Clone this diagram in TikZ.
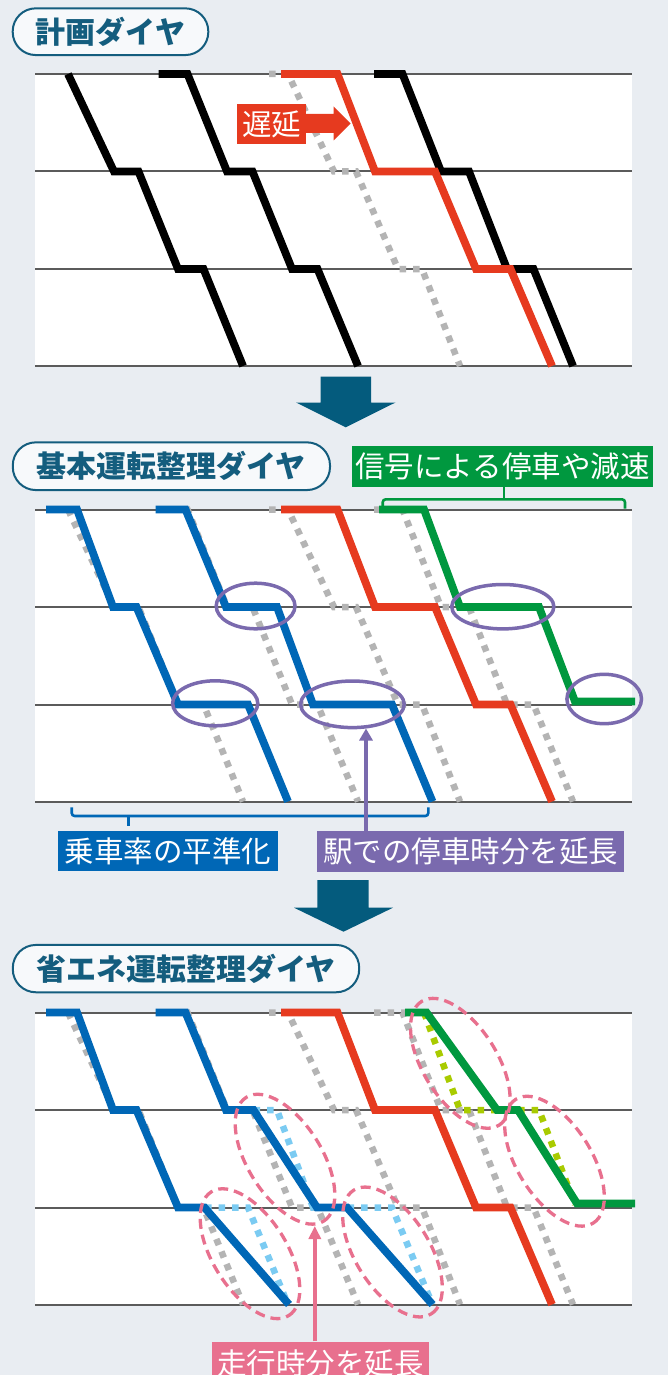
\documentclass[tikz,border=0pt]{standalone}
\usepackage{fontspec}
\newfontfamily\jp{Noto Sans CJK JP}
\usetikzlibrary{arrows.meta}
\definecolor{cBg}{HTML}{E9EDF2}
\definecolor{cTeal}{HTML}{045B7D}
\definecolor{cTitle}{HTML}{145D7E}
\definecolor{cPill}{HTML}{F7F9FB}
\definecolor{cLine}{HTML}{5B5B5B}
\definecolor{cDot}{HTML}{B4B4B4}
\definecolor{cRed}{HTML}{E63A1F}
\definecolor{cBlue}{HTML}{0067B6}
\definecolor{cGreen}{HTML}{00983F}
\definecolor{cPurple}{HTML}{7A6AAE}
\definecolor{cPink}{HTML}{E8708E}
\definecolor{cLime}{HTML}{A9CB00}
\definecolor{cLBlue}{HTML}{7BCBF2}
\tikzset{
  hline/.style={draw=cLine, line width=2pt},
  train/.style={line width=7.8pt, line join=miter, line cap=butt},
  planned/.style={draw=cDot, line width=6.5pt, dash pattern=on 6.5pt off 7pt, line join=miter},
  olddot/.style={line width=6.5pt, dash pattern=on 6.5pt off 7pt, line join=miter},
  pill/.style={draw=cTitle, line width=2pt, fill=cPill, rounded corners=23pt, inner sep=0pt,
    text=cTitle, font=\jp\bfseries\fontsize{30pt}{30pt}\selectfont},
  lbl/.style={inner sep=0pt, text=white, font=\jp\fontsize{29.5pt}{30pt}\selectfont},
  purpell/.style={draw=cPurple, line width=3.5pt},
  pinkell/.style={draw=cPink, line width=3.3pt, dash pattern=on 10pt off 6pt},
  bracket/.style={line width=2.6pt, rounded corners=3pt},
  downarrow/.style={fill=cTeal},
}
\newcommand\drawpanelbase{%
  \fill[white] (35,74) rectangle (632,366);
  \foreach \yy in {74,171.5,269,366} \draw[hline] (35,\yy) -- (632,\yy);
}
\begin{document}
\begin{tikzpicture}[x=1pt,y=-1pt]
\useasboundingbox[fill=cBg] (0,0) rectangle (668,1375);

% ---------- Panel 1 ----------
\node[pill, minimum width=195.6pt, minimum height=46.7pt] (t1) at (110.5,31.7) {計画ダイヤ};
\begin{scope}
  \drawpanelbase
  \draw[planned] (269,74) -- (288,74) -- (334,171.5) -- (356,171.5) -- (398,269) -- (422,269) -- (460,366);
  \draw[train, draw=black] (68,74) -- (114,171.5) -- (138.5,171.5) -- (178,269) -- (203.5,269) -- (243,366);
  \draw[train, draw=black] (158.5,74) -- (187.5,74) -- (227,171.5) -- (252.5,171.5) -- (292,269) -- (317.5,269) -- (358,366);
  \draw[train, draw=black] (374,74) -- (402.5,74) -- (441,171.5) -- (469,171.5) -- (507,269) -- (533.5,269) -- (573,366);
  \draw[train, draw=cRed] (281,74) -- (337.5,74) -- (375,171.5) -- (435,171.5) -- (476,269) -- (510.5,269) -- (552,366);
\end{scope}
\node[lbl, fill=cRed, minimum width=69pt, minimum height=39.5pt] (delay) at (271.5,124.2) {遅延};
\fill[cRed] (305,114) -- (333.5,114) -- (333.5,106.5) -- (350.5,123.5) -- (333.5,140.5) -- (333.5,133) -- (305,133) -- cycle;

\fill[downarrow] (320.5,376.5) -- (371,376.5) -- (371,402.5) -- (395.5,402.5) -- (345.7,427.3) -- (296,402.5) -- (320.5,402.5) -- cycle;

% ---------- Panel 2 ----------
\node[pill, minimum width=317.2pt, minimum height=47.7pt] (t2) at (171.4,466.2) {基本運転整理ダイヤ};
\node[lbl, fill=cGreen, minimum width=301.6pt, minimum height=40.7pt] (sig) at (502.5,466.3) {信号による停車や減速};
\begin{scope}[shift={(0,435.5)}]
  \drawpanelbase
  \draw[planned] (68,74) -- (114,171.5) -- (138.5,171.5) -- (178,269) -- (203.5,269) -- (243,366);
  \draw[planned] (158.5,74) -- (187.5,74) -- (227,171.5) -- (252.5,171.5) -- (292,269) -- (317.5,269) -- (358,366);
  \draw[planned] (269,74) -- (288,74) -- (334,171.5) -- (356,171.5) -- (398,269) -- (422,269) -- (460,366);
  \draw[planned] (374,74) -- (402.5,74) -- (441,171.5) -- (469,171.5) -- (507,269) -- (533.5,269) -- (573,366);
  \draw[train, draw=cBlue] (46,74) -- (77,74) -- (113,171.5) -- (136.5,171.5) -- (178,269) -- (248,269) -- (288,366);
  \draw[train, draw=cBlue] (155.5,74) -- (185.5,74) -- (226,171.5) -- (277,171.5) -- (313,269) -- (392,269) -- (432.5,366);
  \draw[train, draw=cRed] (281,74) -- (337.5,74) -- (375,171.5) -- (435,171.5) -- (476,269) -- (510.5,269) -- (552,366);
  \draw[train, draw=cGreen] (379,74) -- (424,74) -- (460,171.5) -- (539,171.5) -- (575,266) -- (635,266);
  \draw[purpell] (255.6,170.5) ellipse [x radius=39.4pt, y radius=22.8pt];
  \draw[purpell] (215.2,267.8) ellipse [x radius=42.6pt, y radius=22.5pt];
  \draw[purpell] (352.4,268.8) ellipse [x radius=51.8pt, y radius=23.3pt];
  \draw[purpell] (502.8,171.2) ellipse [x radius=51.1pt, y radius=22.2pt];
  \draw[purpell] (604.2,263.5) ellipse [x radius=37.3pt, y radius=24.7pt];
  \coordinate (e3b) at (366,293);
\end{scope}
% green bracket
\draw[bracket, draw=cGreen] (382.7,508.5) -- (382.7,499.3) -- (625,499.3) -- (625,508.5);
\coordinate (gtick) at (504,499.3);
\draw[line width=2.6pt, draw=cGreen] (gtick) -- (gtick |- sig.south);
% blue bracket
\draw[bracket, draw=cBlue] (71.7,807.3) -- (71.7,816) -- (428.3,816) -- (428.3,807.3);
\draw[line width=2.6pt, draw=cBlue] (128.3,816) -- (128.3,825.5);
\node[lbl, fill=cBlue, minimum width=219.4pt, minimum height=40pt] (ride) at (168,851) {乗車率の平準化};
\node[lbl, fill=cPurple, minimum width=307pt, minimum height=40.5pt] (dwell) at (470.8,851.5) {駅での停車時分を延長};
\draw[cPurple, line width=4pt, -{Triangle[length=12pt,width=13pt]}] (dwell.north -| e3b) -- (e3b);

\fill[downarrow] (317.4,880) -- (368.6,880) -- (368.6,907.7) -- (393,907.7) -- (343.5,931.7) -- (294,907.7) -- (317.4,907.7) -- cycle;

% ---------- Panel 3 ----------
\node[pill, minimum width=346.4pt, minimum height=47.3pt] (t3) at (186,968.6) {省エネ運転整理ダイヤ};
\begin{scope}[shift={(0,938.5)}]
  \drawpanelbase
  \draw[planned] (68,74) -- (114,171.5) -- (138.5,171.5) -- (178,269) -- (203.5,269) -- (243,366);
  \draw[planned] (158.5,74) -- (187.5,74) -- (227,171.5) -- (252.5,171.5) -- (292,269) -- (317.5,269) -- (358,366);
  \draw[planned] (269,74) -- (288,74) -- (334,171.5) -- (356,171.5) -- (398,269) -- (422,269) -- (460,366);
  \draw[planned] (374,74) -- (402.5,74) -- (441,171.5) -- (469,171.5) -- (507,269) -- (533.5,269) -- (573,366);
  \draw[olddot, draw=cLBlue] (178,269) -- (248,269) -- (288,366);
  \draw[olddot, draw=cLBlue] (253.5,171.5) -- (277,171.5) -- (313,269) -- (392,269) -- (432.5,366);
  \draw[olddot, draw=cLime] (424,74) -- (460,171.5) -- (539,171.5) -- (575,266);
  \draw[train, draw=cBlue] (46,74) -- (77,74) -- (113,171.5) -- (136.5,171.5) -- (178,269) -- (204.5,269) -- (289,366);
  \draw[train, draw=cBlue] (155.5,74) -- (185.5,74) -- (226,171.5) -- (253.5,171.5) -- (317,269) -- (347,269) -- (432.5,366);
  \draw[train, draw=cRed] (281,74) -- (337.5,74) -- (375,171.5) -- (435,171.5) -- (476,269) -- (510.5,269) -- (552,366);
  \draw[train, draw=cGreen] (405,74) -- (426.5,74) -- (497,171.5) -- (518,171.5) -- (577,265) -- (635,265);
  \draw[pinkell, rotate around={-58:(460.3,124.8)}] (460.3,124.8) ellipse [x radius=73pt, y radius=37pt];
  \draw[pinkell, rotate around={-58:(554.5,222.7)}] (554.5,222.7) ellipse [x radius=73pt, y radius=37pt];
  \draw[pinkell, rotate around={-58:(285,220.7)}] (285,220.7) ellipse [x radius=73pt, y radius=37pt];
  \draw[pinkell, rotate around={-58:(250,315.2)}] (250,315.2) ellipse [x radius=73pt, y radius=37pt];
  \draw[pinkell, rotate around={-58:(392.5,313.5)}] (392.5,313.5) ellipse [x radius=73pt, y radius=37pt];
  \coordinate (p3b) at (314.8,287.5);
\end{scope}
\node[lbl, fill=cPink, minimum width=217.6pt, minimum height=43.3pt] (runtime) at (320.5,1363.3) {走行時分を延長};
\draw[cPink, line width=3.5pt, -{Triangle[length=13pt,width=12pt]}] (runtime.north -| p3b) -- (p3b);
\end{tikzpicture}
\end{document}
